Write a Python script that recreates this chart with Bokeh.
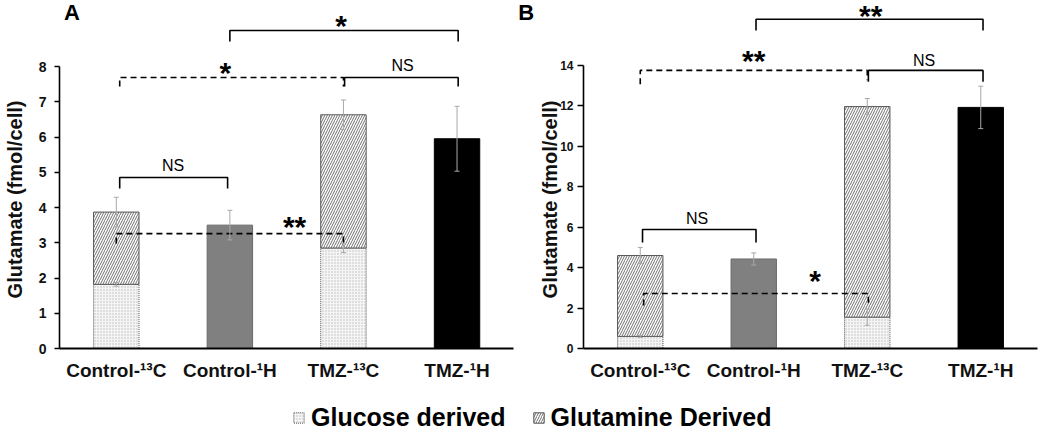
from bokeh.plotting import figure
from bokeh.models import (ColumnDataSource, Range1d, FixedTicker, Whisker, TeeHead,
                          Label, Legend, LegendItem)
from bokeh.layouts import row, column
from bokeh.embed import file_html
from bokeh.resources import INLINE

FONT = "Liberation Sans"

categories = ["Control-¹³C", "Control-¹H", "TMZ-¹³C", "TMZ-¹H"]

# Panel A values (fmol/cell)
a_total = [3.87, 3.50, 6.63, 5.95]
a_total_err = [0.42, 0.42, 0.42, 0.92]
a_glucose = [1.82, 2.85]          # for the two 13C groups
a_glucose_err = [0.05, 0.13]

# Panel B values (fmol/cell)
b_total = [4.60, 4.43, 11.97, 11.93]
b_total_err = [0.40, 0.30, 0.40, 1.05]
b_glucose = [0.60, 1.55]
b_glucose_err = [0.05, 0.40]

a_ticks = [0, 1, 2, 3, 4, 5, 6, 7, 8]
b_ticks = [0, 2, 4, 6, 8, 10, 12, 14]

# significance brackets (category-axis units): x1, x2, y, left end, right end, dashed
a_brackets = [
    (1.50, 3.51, 9.02, 8.71, 8.71, False),
    (0.53, 2.50, 7.69, 7.43, 7.43, True),
    (2.51, 3.51, 7.69, 7.43, 7.43, False),
    (0.53, 1.48, 4.85, 4.54, 4.54, False),
    (0.50, 2.50, 3.26, 2.98, 2.98, True),
]
a_marks = [("*", 2.48, 9.16), ("*", 1.46, 7.84), ("NS", 3.02, 8.03), ("NS", 1.00, 5.19), ("**", 2.07, 3.46)]

b_brackets = [
    (1.52, 3.52, 16.29, 15.74, 15.74, False),
    (0.50, 2.50, 13.76, 13.07, 13.27, True),
    (2.51, 3.52, 13.76, 13.20, 13.20, False),
    (0.52, 1.52, 5.89, 5.25, 5.25, False),
    (0.53, 2.51, 2.72, 2.13, 2.13, True),
]
b_marks = [("**", 2.53, 16.48), ("**", 1.50, 14.25), ("NS", 3.00, 14.25), ("NS", 1.00, 6.43), ("*", 2.04, 3.36)]

# panel letters: (text, x, y) in panel-A units
letters = [("A", 0.11, 9.53), ("B", 4.11, 9.53)]

GLU_STYLE = dict(fill_color="#f5f5f5", hatch_pattern=".", hatch_color="#bbbbbb", hatch_scale=3,
                 hatch_weight=1, line_color="#555555", line_dash="1 1", line_width=1)
GLN_STYLE = dict(fill_color="white", hatch_pattern="/", hatch_color="#707070", hatch_scale=5,
                 hatch_weight=1, line_color="#555555", line_width=1)

NBSP = "\u00a0"


def make_panel(total, total_err, glucose, glucose_err, ticks, ymax, xmax, brackets, marks,
               width, left, right, tick_size, tick_out, tick_standoff, lab_standoff, lab_pad):
    xpos = [i + 0.5 for i in range(len(categories))]
    p = figure(width=width, height=400, x_range=Range1d(0, xmax),
               y_range=Range1d(0, ymax), toolbar_location=None, output_backend="svg",
               min_border_left=left, min_border_right=right, min_border_top=0, min_border_bottom=52)
    p.outline_line_color = None
    p.grid.visible = False
    p.background_fill_color = "white"

    x13 = [xpos[0], xpos[2]]
    p.vbar(x=x13, bottom=0, top=glucose, width=0.40, **GLU_STYLE)
    p.vbar(x=x13, bottom=glucose, top=[total[0], total[2]], width=0.40, **GLN_STYLE)
    p.vbar(x=[xpos[1], xpos[3]], bottom=0, top=[total[1], total[3]], width=0.40,
           fill_color=["#808080", "#000000"], line_color=["#6a6a6a", "#000000"])

    eb = ColumnDataSource(dict(
        x=xpos + x13,
        upper=[t + e for t, e in zip(total, total_err)] + [g + e for g, e in zip(glucose, glucose_err)],
        lower=[t - e for t, e in zip(total, total_err)] + [g - e for g, e in zip(glucose, glucose_err)]))
    p.add_layout(Whisker(base="x", upper="upper", lower="lower", source=eb, level="overlay",
                         line_color="#a8a8a8", line_width=1,
                         upper_head=TeeHead(size=5, line_color="#a8a8a8", line_width=1),
                         lower_head=TeeHead(size=5, line_color="#a8a8a8", line_width=1)))

    for dashed in (False, True):
        xs, ys = [], []
        for x1, x2, y, yl, yr, d in brackets:
            if d == dashed:
                xs.append([x1, x1, x2, x2])
                ys.append([yl, y, y, yr])
        p.multi_line(xs, ys, line_color="black", line_width=1.6,
                     line_dash=("6 4" if dashed else "solid"))

    for txt, x, y in marks:
        star = "*" in txt
        p.add_layout(Label(x=x, y=y, text=txt, text_align="center", text_baseline="middle",
                           text_font=FONT, text_font_size=("30px" if star else "16px"),
                           text_font_style=("bold" if star else "normal"), text_color="black"))

    ya = p.yaxis[0]
    ya.bounds = (0, ticks[-1])
    ya.ticker = FixedTicker(ticks=ticks)
    ya.minor_tick_line_color = None
    ya.major_tick_in = 0
    ya.major_tick_out = tick_out
    ya.major_label_standoff = tick_standoff
    ya.axis_line_width = 1.6
    ya.axis_line_color = "black"
    ya.major_tick_line_width = 1.3
    ya.major_label_text_font = FONT
    ya.major_label_text_font_size = tick_size
    ya.major_label_text_font_style = "bold"
    ya.major_label_text_color = "#111111"
    ya.axis_label = "Glutamate (fmol/cell)" + NBSP * lab_pad
    ya.axis_label_text_font = FONT
    ya.axis_label_text_font_size = "20px"
    ya.axis_label_text_font_style = "bold"
    ya.axis_label_text_color = "#111111"
    ya.axis_label_standoff = lab_standoff

    xa = p.xaxis[0]
    xa.bounds = (0, len(categories))
    xa.ticker = FixedTicker(ticks=xpos)
    xa.major_label_overrides = {x: c for x, c in zip(xpos, categories)}
    xa.minor_tick_line_color = None
    xa.axis_line_width = 1.8
    xa.axis_line_color = "black"
    xa.major_tick_line_color = None
    xa.major_label_standoff = 5
    xa.major_label_text_font = FONT
    xa.major_label_text_font_size = "19px"
    xa.major_label_text_font_style = "bold"
    xa.major_label_text_color = "#111111"
    return p


pA = make_panel(a_total, a_total_err, a_glucose, a_glucose_err, a_ticks, 348 / 35.25,
                (535 - 52) / 115.25, a_brackets, a_marks, 535, 52, 0, "14px", 5, 8, 10, 9)
pB = make_panel(b_total, b_total_err, b_glucose, b_glucose_err, b_ticks, 348 / 20.21,
                4.0, b_brackets, b_marks, 515, 48, 13, "12px", 6, 4, -4, 9)

for txt, x, y in letters:
    pA.add_layout(Label(x=x, y=y, text=txt, text_align="center", text_baseline="middle",
                        text_font=FONT, text_font_size="22px", text_font_style="bold",
                        text_color="black"))

pL = figure(width=1050, height=34, x_range=Range1d(0, 1), y_range=Range1d(0, 1),
            toolbar_location=None, output_backend="svg", min_border=0,
            x_axis_type=None, y_axis_type=None)
pL.grid.visible = False
pL.outline_line_color = None
hidden = ColumnDataSource(dict(x=[5], top=[1]))
r1 = pL.vbar(x="x", top="top", width=0.1, source=hidden, **GLU_STYLE)
r2 = pL.vbar(x="x", top="top", width=0.1, source=hidden, **GLN_STYLE)
legend = Legend(items=[LegendItem(label="Glucose derived", renderers=[r1]),
                       LegendItem(label="Glutamine Derived", renderers=[r2])],
                orientation="horizontal", location=(292, 2), padding=0, margin=0, spacing=26,
                label_standoff=6, glyph_width=13, glyph_height=13, label_text_font=FONT,
                label_text_font_size="25px", label_text_font_style="bold", label_text_color="black",
                border_line_color=None, background_fill_alpha=0)
pL.add_layout(legend)

layout = column(row(pA, pB), pL)
open("out.html", "w").write(file_html(layout, INLINE))
